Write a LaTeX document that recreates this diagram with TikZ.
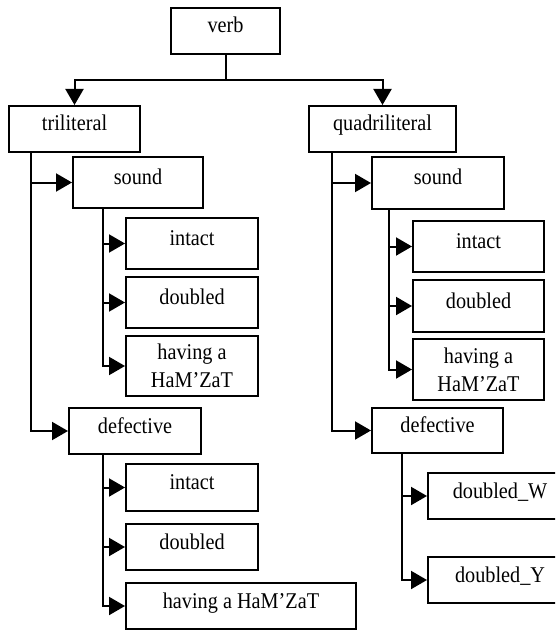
\documentclass[tikz,border=0pt]{standalone}
\usepackage{fontspec}
\setmainfont{Liberation Serif}[FakeStretch=0.9]
\usepackage{tikz}
\usetikzlibrary{arrows.meta}
\tikzset{
	box/.style={draw, line width=2pt, inner sep=0pt, minimum height=46pt, minimum width=132pt, font=\fontsize{22.5}{28}\selectfont},
	up/.style={text height=15pt, text depth=11pt},
	ln/.style={line width=2pt},
	arr/.style={line width=2pt, -{Triangle[length=16pt,width=18pt]}}
}

\begin{document}
\begin{tikzpicture}[x=1pt,y=-1pt]
				\clip (0,0) rectangle (555,631);
				\node[box,up,minimum width=109pt] (verb) at (225.5,31) {verb};
				\node[box,up,minimum width=131pt] (tri) at (74.5,129) {triliteral};
				\node[box,up,minimum width=147pt] (quad) at (382.5,129) {quadriliteral};
				\node[box,up,minimum width=130pt,minimum height=51pt] (snd1) at (138,182.5) {sound};
				\node[box,up,minimum height=51pt] (int1) at (192,243.5) {intact};
				\node[box,up,minimum height=51pt] (dbl1) at (192,302.5) {doubled};
				\node[box,align=center,minimum height=60pt] (ham1) at (192,366) {having a\\HaM’ZaT};
				\node[box,up] (def1) at (135,431) {defective};
				\node[box,up,minimum height=47pt] (int2) at (192,487.5) {intact};
				\node[box,up] (dbl2) at (192,547) {doubled};
				\node[box,up,minimum width=230pt] (ham2) at (241,606) {having a HaM’ZaT};
				\node[box,up,minimum height=52pt] (snd2) at (438,183) {sound};
				\node[box,up,minimum width=131pt,minimum height=51pt] (int3) at (478.5,246.5) {intact};
				\node[box,up,minimum width=131pt,minimum height=52pt] (dbl3) at (478.5,306) {doubled};
				\node[box,align=center,minimum width=131pt,minimum height=61pt] (ham3) at (478.5,369.5) {having a\\HaM’ZaT};
				\node[box,up,minimum width=131pt,minimum height=45pt] (def2) at (437.5,430.5) {defective};
				\node[box,up,minimum width=144pt] (dbW) at (500,496) {doubled\_W};
				\node[box,up,minimum width=144pt] (dbY) at (500,580) {doubled\_Y};
				\coordinate (split) at (225.5,80);
				\draw[ln] (verb.south) -- (split);
				\draw[arr] (split) -| (tri.north);
				\draw[arr] (split) -| (quad.north);
				\draw[arr] ([xshift=23pt]tri.south west) |- (snd1.west);
				\draw[arr] ([xshift=23pt]tri.south west) |- (def1.west);
				\draw[arr] ([xshift=31pt]snd1.south west) |- (int1.west);
				\draw[arr] ([xshift=31pt]snd1.south west) |- (dbl1.west);
				\draw[arr] ([xshift=31pt]snd1.south west) |- (ham1.west);
				\draw[arr] ([xshift=35pt]def1.south west) |- (int2.west);
				\draw[arr] ([xshift=35pt]def1.south west) |- (dbl2.west);
				\draw[arr] ([xshift=35pt]def1.south west) |- (ham2.west);
				\draw[arr] ([xshift=24pt]quad.south west) |- (snd2.west);
				\draw[arr] ([xshift=24pt]quad.south west) |- (def2.west);
				\draw[arr] ([xshift=18pt]snd2.south west) |- (int3.west);
				\draw[arr] ([xshift=18pt]snd2.south west) |- (dbl3.west);
				\draw[arr] ([xshift=18pt]snd2.south west) |- (ham3.west);
				\draw[arr] ([xshift=31pt]def2.south west) |- (dbW.west);
				\draw[arr] ([xshift=31pt]def2.south west) |- (dbY.west);
			\end{tikzpicture}
\end{document}
